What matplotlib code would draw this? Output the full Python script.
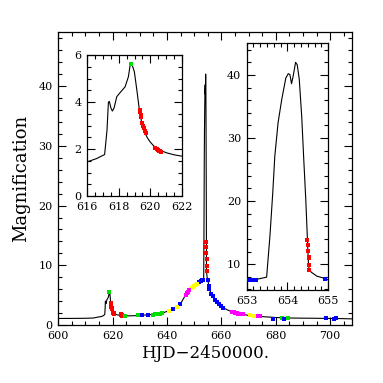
import matplotlib
matplotlib.use("Agg")
import matplotlib.pyplot as plt
from matplotlib.ticker import MultipleLocator

# ---- model light curve ----
model_t = [600, 605, 610, 613, 614, 615, 616, 616.6, 617.1, 617.25, 617.34, 617.4, 617.5,
           617.59, 617.7, 617.87, 618.1, 618.4, 618.61, 618.72, 618.78, 618.85, 618.99,
           619.15, 619.31, 619.45, 619.63, 619.8, 619.99, 620.2, 620.41, 620.7, 621.05,
           621.5, 622, 623, 624, 626, 628, 630, 632, 634, 636, 638, 640, 641, 642, 643,
           644, 645, 646, 647, 648, 649, 650, 651, 652, 652.5, 653, 653.25, 653.49,
           653.53, 653.57, 653.64, 653.69, 653.77, 653.86, 653.96, 654.02, 654.06,
           654.10, 654.14, 654.20, 654.24, 654.29, 654.35, 654.40, 654.45, 654.49,
           654.51, 654.53, 654.59, 654.72, 654.88, 655, 655.5, 656, 657, 658, 659, 660,
           661, 662, 664, 666, 668, 670, 672, 674, 676, 680, 685, 690, 695, 700, 704, 708]
model_a = [1.12, 1.13, 1.15, 1.2, 1.3, 1.38, 1.46, 1.6, 1.77, 2.8, 4.0, 4.03, 3.75,
           3.62, 3.75, 4.23, 4.42, 4.65, 5.08, 5.57, 5.62, 5.58, 5.29,
           4.5, 3.66, 3.15, 2.74, 2.5, 2.31, 2.15, 2.03, 1.93, 1.84,
           1.76, 1.70, 1.62, 1.58, 1.56, 1.58, 1.63, 1.70, 1.77, 1.85, 1.98, 2.3, 2.5, 2.7, 2.9,
           3.15, 3.6, 4.4, 5.2, 5.75, 6.2, 6.6, 6.9, 7.2, 7.35, 7.5, 7.6, 7.94,
           11.2, 14.4, 21.3, 27.1, 32.4, 36.1, 39.5, 40.2, 40.05,
           38.6, 39.8, 42.0, 41.6, 39.3, 33.4, 26.6, 20.2, 13.9,
           10.7, 9.1, 8.7, 8.1, 7.8, 7.5, 6.4, 5.5, 4.6, 4.0, 3.5, 3.1,
           2.85, 2.6, 2.2, 1.95, 1.78, 1.64, 1.54, 1.46, 1.4, 1.28, 1.2, 1.17, 1.15, 1.12, 1.1, 1.05]

# ---- observed points by site (colour) ----
red_t = [619.32, 619.36, 619.40, 619.44, 619.50, 619.55, 619.60, 619.65, 619.70,
         620.32, 620.40, 620.48, 620.55, 620.62, 620.68,
         623.0, 623.2, 623.4, 623.6, 623.8,
         654.49, 654.51, 654.51, 654.52, 654.53, 654.52, 654.54]
red_a = [3.68, 3.58, 3.47, 3.36, 3.12, 3.0, 2.88, 2.78, 2.70,
         2.06, 2.0, 1.96, 1.92, 1.90, 1.88,
         1.85, 1.75, 1.65, 1.6, 1.55,
         13.9, 13.1, 12.1, 11.1, 11.0, 9.9, 9.1]
green_t = [618.78, 624.4, 624.6, 629.3, 635.0, 635.6, 636.3, 637.0, 637.6, 638.3, 682.3, 684.6]
green_a = [5.62, 1.58, 1.56, 1.62, 1.78, 1.8, 1.83, 1.86, 1.9, 1.98, 1.2, 1.2]
blue_t = [630.7, 632.9, 642.3, 644.9, 651.9, 652.4, 653.0, 653.05, 653.1, 653.15, 653.22,
          654.92, 655.4, 655.6, 656.2, 656.8, 657.5, 658.2, 659.0, 659.8, 660.6,
          679.1, 682.9, 698.6, 701.5, 702.3]
blue_a = [1.67, 1.74, 2.75, 3.5, 7.2, 7.4, 7.55, 7.5, 7.55, 7.52, 7.55,
          7.6, 6.6, 6.0, 5.2, 4.8, 4.2, 3.9, 3.5, 3.2, 2.95,
          1.1, 1.1, 1.12, 1.08, 1.15]
yellow_t = [640.6, 643.6, 649.0, 649.5, 650.0, 650.5, 651.2, 670.6, 672.1]
yellow_a = [2.45, 3.0, 6.2, 6.4, 6.6, 6.7, 6.9, 1.62, 1.55]
magenta_t = [646.8, 647.2, 647.6, 648.0, 663.9, 664.5, 665.0, 665.6, 666.2, 666.8,
             667.4, 668.1, 673.6, 674.2]
magenta_a = [5.0, 5.3, 5.5, 5.8, 2.2, 2.15, 2.08, 2.0, 1.95, 1.9,
             1.85, 1.8, 1.55, 1.5]

sites = [(red_t, red_a, "red"), (green_t, green_a, "#00dd00"), (blue_t, blue_a, "blue"),
         (yellow_t, yellow_a, "yellow"), (magenta_t, magenta_a, "magenta")]

plt.rcParams['font.family'] = ['DejaVu Serif']

fig = plt.figure(figsize=(3.83, 3.83), dpi=100)


def style(ax, xmaj, xmin, ymaj, ymin):
    ax.xaxis.set_major_locator(MultipleLocator(xmaj))
    ax.xaxis.set_minor_locator(MultipleLocator(xmin))
    ax.yaxis.set_major_locator(MultipleLocator(ymaj))
    ax.yaxis.set_minor_locator(MultipleLocator(ymin))
    ax.tick_params(which='both', direction='in', top=True, right=True, width=0.8,
                   labelsize=8, colors='black')
    ax.tick_params(which='major', length=5.5, pad=4)
    ax.tick_params(which='minor', length=3)
    for s in ax.spines.values():
        s.set_linewidth(0.9)


def draw(ax, ms):
    ax.plot(model_t, model_a, color='black', lw=0.8, zorder=2)
    for t, a, c in sites:
        ax.plot(t, a, 's', color=c, ms=ms, mec=c, mew=0, zorder=3, clip_on=True)


ax = fig.add_axes([0.152, 0.151, 0.767, 0.765])
draw(ax, 2.8)
ax.set_xlim(600, 708)
ax.set_ylim(0, 49)
style(ax, 20, 5, 10, 2)
ax.set_xlabel("HJD\u22122450000.", fontsize=12, labelpad=3)
ax.set_ylabel("Magnification", fontsize=13, labelpad=6)

ax1 = fig.add_axes([0.228, 0.488, 0.2465, 0.368])
draw(ax1, 3.0)
ax1.set_xlim(616, 622)
ax1.set_ylim(0, 6)
style(ax1, 2, 0.5, 2, 0.5)

ax2 = fig.add_axes([0.644, 0.2428, 0.213, 0.644])
draw(ax2, 3.0)
ax2.set_xlim(653, 655)
ax2.set_ylim(5.9, 45)
style(ax2, 1, 1/6, 10, 2)

fig.savefig("out.png", dpi=100)
